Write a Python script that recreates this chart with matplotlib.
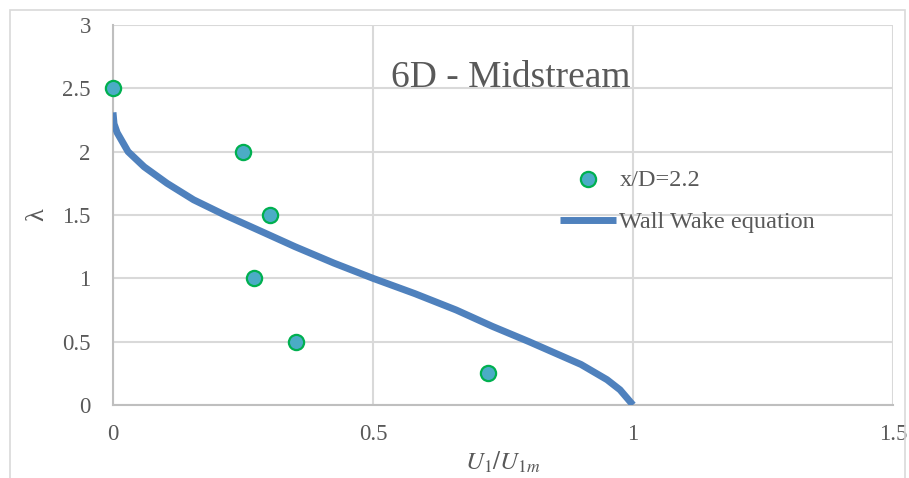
import matplotlib.pyplot as plt
from matplotlib.patches import Rectangle

# measured points x/D=2.2
u_meas = [0.0, 0.25, 0.302, 0.271, 0.352, 0.721]
lam_meas = [2.5, 2.0, 1.5, 1.0, 0.5, 0.25]

# wall wake equation curve
u_eq = [1.0, 0.975, 0.95, 0.90, 0.85, 0.80, 0.73, 0.66, 0.58, 0.50,
        0.425, 0.35, 0.28, 0.215, 0.155, 0.104, 0.06, 0.029, 0.008, 0.002, 0.0]
lam_eq = [0.0, 0.12, 0.2, 0.32, 0.41, 0.5, 0.62, 0.75, 0.88, 1.0,
          1.12, 1.25, 1.38, 1.5, 1.62, 1.75, 1.88, 2.0, 2.15, 2.22, 2.31]

xticks = [0, 0.5, 1, 1.5]
yticks = [0, 0.5, 1, 1.5, 2, 2.5, 3]

plt.rcParams['font.family'] = ['Liberation Serif', 'DejaVu Serif']
plt.rcParams['mathtext.fontset'] = 'stix'

txt = '#595959'
fig = plt.figure(figsize=(9.09, 4.78), dpi=100)
fig.patches.append(Rectangle((10 / 909, -0.05), 895 / 909, 1 - 10 / 478 + 0.05,
                             transform=fig.transFigure, fill=False,
                             edgecolor='#D9D9D9', lw=1.2))
ax = fig.add_axes([113 / 909, 73 / 478, 780 / 909, 380 / 478])

ax.plot(u_eq, lam_eq, color='#4F81BD', lw=5, solid_capstyle='butt',
        solid_joinstyle='round', label='Wall Wake equation', zorder=3)
ax.scatter(u_meas, lam_meas, s=120, c='#4BACC6', edgecolors='#00B050',
           linewidths=1.6, label='x/D=2.2', zorder=4, clip_on=False)

ax.set_xlim(0, 1.5)
ax.set_ylim(0, 3)
ax.set_xticks(xticks)
ax.set_yticks(yticks)
ax.set_xticklabels(['0', '0.5', '1', '1.5'])
ax.set_yticklabels(['0', '0.5', '1', '1.5', '2', '2.5', '3'])
ax.tick_params(axis='both', length=0, labelsize=16.5, colors=txt)
ax.tick_params(axis='y', pad=16)
ax.tick_params(axis='x', pad=14)

ax.grid(True, color='#D9D9D9', lw=1.5)
ax.set_axisbelow(True)
for s in ['top', 'right']:
    ax.spines[s].set_visible(False)
for s in ['left', 'bottom']:
    ax.spines[s].set_color('#BFBFBF')
    ax.spines[s].set_linewidth(1.5)

ax.set_xlabel(r'$U_1/U_{1m}$', fontsize=18, color=txt, labelpad=3)
ax.set_ylabel('λ', fontsize=19, color=txt, labelpad=10)

ax.text(0.535, 2.58, '6D - Midstream', fontsize=27, color=txt, va='center')

h, l = ax.get_legend_handles_labels()
leg = ax.legend(h[::-1], l[::-1], frameon=False, loc='center left',
                bbox_to_anchor=(0.573, 0.537), fontsize=17.5, borderpad=0,
                borderaxespad=0, handlelength=2.3, handletextpad=0.15,
                labelspacing=0.85)
for t in leg.get_texts():
    t.set_color(txt)

fig.savefig('out.png', dpi=100)
